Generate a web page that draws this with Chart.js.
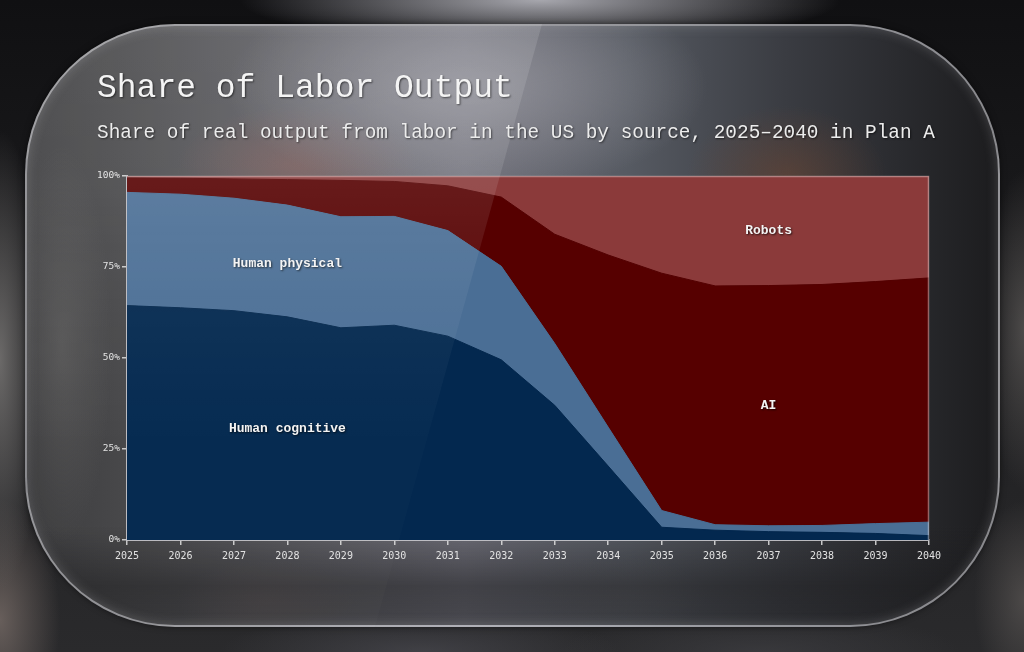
<!DOCTYPE html>
<html><head><meta charset="utf-8">
<script src="https://cdn.jsdelivr.net/npm/chart.js@4.4.0/dist/chart.umd.min.js"></script>
<style>
html,body{margin:0;padding:0;width:1024px;height:652px;overflow:hidden;background:#141416;}
#bg{position:absolute;left:0;top:0;width:1024px;height:652px;
background:
 radial-gradient(ellipse 300px 45px at 540px 0px, rgba(175,175,182,0.95), rgba(175,175,182,0) 100%),
 radial-gradient(ellipse 45px 230px at 0px 360px, rgba(115,113,112,0.9), rgba(115,113,112,0) 100%),
 radial-gradient(ellipse 60px 120px at 0px 620px, rgba(110,100,96,0.9), rgba(110,100,96,0) 100%),
 radial-gradient(ellipse 40px 160px at 1024px 330px, rgba(95,92,90,0.7), rgba(95,92,90,0) 100%),
 radial-gradient(ellipse 50px 100px at 1024px 600px, rgba(90,86,84,0.7), rgba(90,86,84,0) 100%),
 radial-gradient(ellipse 200px 40px at 420px 652px, rgba(70,70,76,0.8), rgba(70,70,76,0) 100%),
 radial-gradient(ellipse 200px 40px at 760px 652px, rgba(60,60,64,0.8), rgba(60,60,64,0) 100%),
 linear-gradient(to bottom, #101012 0%, #1e1e20 50%, #2a2a2c 100%);}
#panel{position:absolute;left:25px;top:24px;width:975px;height:603px;box-sizing:border-box;
border-radius:150px/150px;border:2px solid rgba(210,210,215,0.6);
box-shadow: inset 0 0 12px rgba(220,220,225,0.22), 0 0 6px rgba(0,0,0,0.5);
background:
 linear-gradient(to bottom, rgba(28,28,30,0) 0px, rgba(28,28,30,0) 500px, rgba(28,28,30,0.55) 560px, rgba(28,28,30,0.45) 603px),
 radial-gradient(ellipse 240px 110px at 440px 60px, rgba(150,150,158,0.9), rgba(150,150,158,0) 100%),
 radial-gradient(ellipse 120px 60px at 270px 140px, rgba(135,90,85,0.55), rgba(135,90,85,0) 100%),
 radial-gradient(ellipse 100px 70px at 760px 150px, rgba(110,70,50,0.55), rgba(110,70,50,0) 100%),
 radial-gradient(ellipse 90px 40px at 240px 575px, rgba(110,100,100,0.6), rgba(110,100,100,0) 100%),
 radial-gradient(ellipse 90px 40px at 590px 570px, rgba(95,95,100,0.5), rgba(95,95,100,0) 100%),
 radial-gradient(ellipse 50px 200px at 35px 320px, rgba(105,104,103,0.5), rgba(105,104,103,0) 100%),
 linear-gradient(to right, #3a3a3c 0%, #464648 10%, #5e5e64 30%, #6e6e78 45%, #565a62 62%, #3a3c42 78%, #1c1c1e 100%);}
#glare{position:absolute;left:25px;top:24px;width:975px;height:603px;border-radius:150px/150px;overflow:hidden;pointer-events:none;z-index:3;}
#glare div{position:absolute;left:0;top:0;width:975px;height:603px;
clip-path:polygon(0 0, 517px 0, 350px 603px, 0 603px);
background:linear-gradient(to bottom, rgba(255,255,255,0.12) 0px, rgba(255,255,255,0.10) 160px, rgba(255,255,255,0.05) 280px, rgba(255,255,255,0.015) 420px, rgba(255,255,255,0.015) 603px);}
#title{position:absolute;left:97px;top:71px;font-family:'Liberation Mono','DejaVu Sans Mono',monospace;font-size:33px;line-height:36px;color:#f4f4f4;text-shadow:1px 1px 2px rgba(0,0,0,0.55);white-space:nowrap;z-index:4;}
#sub{position:absolute;left:97px;top:121px;font-family:'Liberation Mono','DejaVu Sans Mono',monospace;font-size:19.4px;line-height:24px;color:#ececec;text-shadow:1px 1px 2px rgba(0,0,0,0.55);white-space:nowrap;z-index:4;}
#wrap{position:absolute;left:0;top:0;width:1024px;height:652px;z-index:2;}
</style></head><body>
<div id="bg"></div>
<div id="panel"></div>
<div id="title">Share of Labor Output</div>
<div id="sub">Share of real output from labor in the US by source, 2025–2040 in Plan A</div>
<div id="wrap"><canvas id="c" width="1024" height="652"></canvas></div>
<div id="glare"><div></div></div>
<script>
const years = ['2025','2026','2027','2028','2029','2030','2031','2032','2033','2034','2035','2036','2037','2038','2039','2040'];
const humanCognitive = [64.4, 63.8, 63.0, 61.3, 58.3, 59.0, 56.0, 49.5, 37.0, 20.3, 3.5, 2.7, 2.3, 2.1, 1.8, 1.2];
const humanPhysical  = [31.1, 31.2, 30.9, 30.7, 30.5, 29.9, 29.0, 25.7, 17.0, 10.7, 4.6, 1.5, 1.6, 1.9, 2.7, 3.7];
const ai             = [4.0, 4.4, 5.3, 7.0, 10.0, 9.6, 12.3, 19.0, 30.0, 47.3, 65.2, 65.6, 66.0, 66.2, 66.5, 67.1];
const robots         = [0.5, 0.6, 0.8, 1.0, 1.2, 1.5, 2.7, 5.8, 16.0, 21.7, 26.7, 30.2, 30.1, 29.8, 29.0, 28.0];
const yTicks = [0, 25, 50, 75, 100];
const seriesNames = ['Human cognitive', 'Human physical', 'AI', 'Robots'];
const colors = ['#03284f', '#4a6e95', '#560000', '#8b3a3a'];
const areaLabels = [
  {text:'Human physical', year:'2028', value:76},
  {text:'Human cognitive', year:'2028', value:30.5},
  {text:'Robots', year:'2037', value:85},
  {text:'AI', year:'2037', value:36.8}
];

const mkDs = (label, data, i) => ({
  label, data,
  backgroundColor: colors[i], borderColor: colors[i], borderWidth: 1,
  fill: i === 0 ? 'origin' : '-1', pointRadius: 0, tension: 0
});

const labelPlugin = {
  id: 'areaLabels',
  afterDatasetsDraw(chart) {
    const {ctx, scales:{x, y}} = chart;
    ctx.save();
    ctx.font = 'bold 13px "Liberation Mono", monospace';
    ctx.textAlign = 'center'; ctx.textBaseline = 'middle';
    ctx.shadowColor = 'rgba(0,0,0,0.7)'; ctx.shadowOffsetX = 1; ctx.shadowOffsetY = 1; ctx.shadowBlur = 2;
    ctx.fillStyle = '#f4f4f4';
    areaLabels.forEach(l => {
      ctx.fillText(l.text, x.getPixelForValue(years.indexOf(l.year)), y.getPixelForValue(l.value));
    });
    ctx.restore();
    const a = chart.chartArea;
    ctx.save();
    ctx.strokeStyle = 'rgba(230,220,220,0.45)'; ctx.lineWidth = 1.5;
    ctx.beginPath();
    ctx.moveTo(a.left, a.top + 0.5); ctx.lineTo(a.right - 0.5, a.top + 0.5); ctx.lineTo(a.right - 0.5, a.bottom);
    ctx.stroke();
    ctx.restore();
  }
};

new Chart(document.getElementById('c'), {
  type: 'line',
  data: {
    labels: years,
    datasets: [
      mkDs(seriesNames[0], humanCognitive, 0),
      mkDs(seriesNames[1], humanPhysical, 1),
      mkDs(seriesNames[2], ai, 2),
      mkDs(seriesNames[3], robots, 3)
    ]
  },
  options: {
    responsive: false, animation: false, devicePixelRatio: 1,
    layout: {padding: {left: 97, right: 95, top: 176, bottom: 80}},
    plugins: {legend: {display: false}, tooltip: {enabled: false}, title: {display: false}},
    elements: {line: {borderJoinStyle: 'round'}},
    scales: {
      x: {
        offset: false,
        grid: {display: true, drawOnChartArea: false, drawTicks: true, tickLength: 5, color: 'rgba(225,225,225,0.85)', lineWidth: 1.5},
        border: {display: true, color: 'rgba(200,200,205,0.9)', width: 2},
        ticks: {color: '#e2e2e2', font: {family: '"DejaVu Sans Mono", monospace', size: 10}, padding: 5, maxRotation: 0, autoSkip: false},
        afterFit(axis) { axis.height = 32; }
      },
      y: {
        stacked: true, min: 0, max: 100,
        afterBuildTicks(axis) { axis.ticks = yTicks.map(v => ({value: v})); },
        grid: {display: true, drawOnChartArea: false, drawTicks: true, tickLength: 5, color: 'rgba(225,225,225,0.85)', lineWidth: 1.5},
        border: {display: true, color: 'rgba(200,200,205,0.9)', width: 2},
        ticks: {color: '#e2e2e2', font: {family: '"DejaVu Sans Mono", monospace', size: 9.5}, padding: 2, callback: v => v + '%'},
        afterFit(axis) { axis.width = 30; }
      }
    }
  },
  plugins: [labelPlugin]
});
</script>
</body></html>
